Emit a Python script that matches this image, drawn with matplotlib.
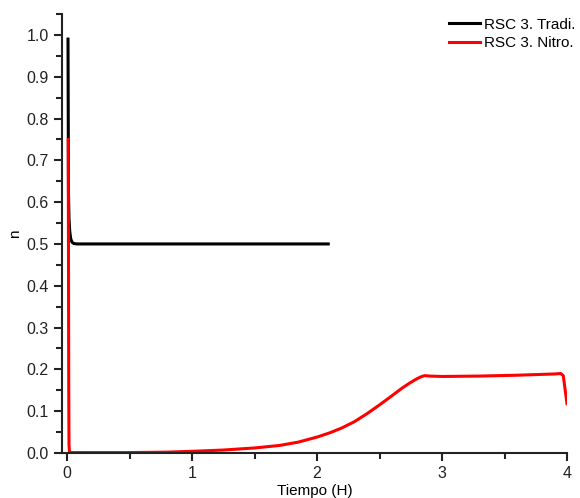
import matplotlib
matplotlib.use("Agg")
import matplotlib.pyplot as plt
from matplotlib.ticker import MultipleLocator, FormatStrFormatter

plt.rcParams["font.family"] = ["Liberation Sans", "DejaVu Sans"]

# Time (hours) and n for the traditional run
tradi_t = [0.008, 0.010, 0.012, 0.016, 0.022, 0.030, 0.040, 0.055, 0.08, 0.2, 0.5, 1.0, 1.5, 2.0, 2.09]
tradi_n = [0.99, 0.80, 0.62, 0.56, 0.53, 0.512, 0.504, 0.501, 0.50, 0.50, 0.50, 0.50, 0.50, 0.50, 0.50]

# Time (hours) and n for the nitro run
nitro_t = [0.010, 0.012, 0.014, 0.016, 0.02, 0.1, 0.5, 0.8, 1.0, 1.25, 1.5, 1.7, 1.85, 2.0, 2.1, 2.2,
           2.3, 2.4, 2.5, 2.6, 2.68, 2.74, 2.79, 2.83, 2.86, 2.9, 3.0, 3.3, 3.6, 3.9, 3.95, 3.97, 4.0]
nitro_n = [0.75, 0.45, 0.15, 0.02, 0.001, 0.001, 0.001, 0.002, 0.004, 0.007, 0.012, 0.018, 0.026, 0.038, 0.048, 0.060,
           0.075, 0.094, 0.115, 0.137, 0.155, 0.167, 0.176, 0.182, 0.185, 0.184, 0.183, 0.184, 0.186, 0.189, 0.19, 0.185, 0.118]

fig = plt.figure(figsize=(5.8, 4.98), dpi=100)
ax = fig.add_axes([0.1069, 0.0904, 0.8707, 0.8815])

ax.plot(tradi_t, tradi_n, color="black", lw=2.2, label="RSC 3. Tradi.")
ax.plot(nitro_t, nitro_n, color="red", lw=2.2, label="RSC 3. Nitro.")

ax.set_xlim(-0.04, 4.0)
ax.set_ylim(0, 1.05)
ax.xaxis.set_major_locator(MultipleLocator(1))
ax.xaxis.set_minor_locator(MultipleLocator(0.5))
ax.yaxis.set_major_locator(MultipleLocator(0.1))
ax.yaxis.set_minor_locator(MultipleLocator(0.05))
ax.yaxis.set_major_formatter(FormatStrFormatter("%.1f"))

for side in ("top", "right"):
    ax.spines[side].set_visible(False)
for side in ("left", "bottom"):
    ax.spines[side].set_linewidth(1.5)
    ax.spines[side].set_color("#222222")

ax.tick_params(which="major", direction="out", length=6, width=1.5, labelsize=11.5, colors="#222222")
ax.tick_params(which="minor", direction="out", length=4, width=1.5, colors="#222222")

ax.set_xlabel("Tiempo (H)", fontsize=11, labelpad=2)
ax.set_ylabel("n", fontsize=11, labelpad=3)

ax.legend(loc="upper right", bbox_to_anchor=(1.044, 1.023), frameon=False, fontsize=11,
          handlelength=2.0, handletextpad=0.3, labelspacing=0.3)

fig.savefig("out.png", dpi=100)
